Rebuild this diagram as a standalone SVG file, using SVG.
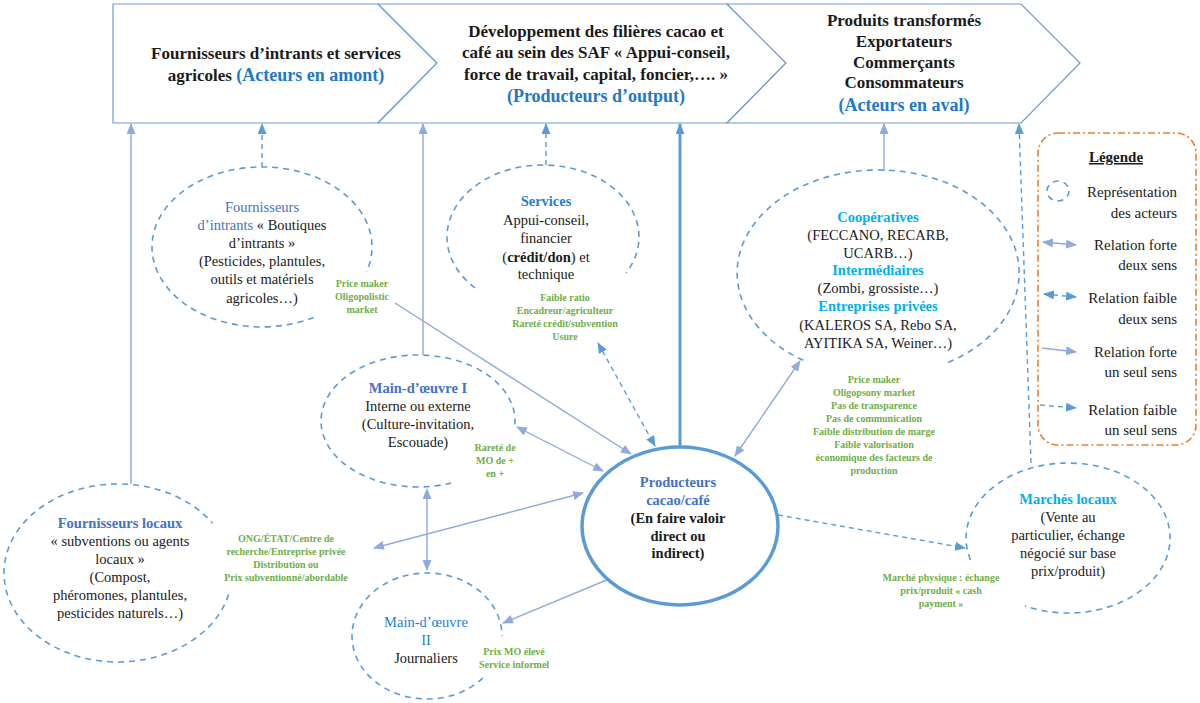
<svg xmlns="http://www.w3.org/2000/svg" width="1200" height="703" viewBox="0 0 1200 703" font-family="'Liberation Serif','Times New Roman','DejaVu Serif','Noto Serif',serif">
<defs>
<style>
text{font-family:'Liberation Serif','Times New Roman','DejaVu Serif','Noto Serif',serif;fill:#1a1a1a;text-anchor:middle}
.ban{font-size:17px;font-weight:bold}
.banb{font-size:18px;font-weight:bold;fill:#1f78c8}
.nd{font-size:14.5px}
.ndb{font-size:14.5px;font-weight:bold}
.t1{fill:#4472c4}
.t2{fill:#1f7fcf}
.t3{fill:#00b0f0}
.gr{font-size:10px;font-weight:bold;fill:#70ad47}
.lg{font-size:15px;text-anchor:end}
.band{fill:#fff;stroke:#6e9bd0;stroke-width:1.2}
.dash{fill:none;stroke:#5b9bd5;stroke-width:1.6;stroke-dasharray:6,5}
.c{fill:none;stroke:#8faadc;stroke-width:1.4}
.cd{fill:none;stroke:#5b9bd5;stroke-width:1.4;stroke-dasharray:5,4}
</style>
<marker id="a" markerUnits="userSpaceOnUse" markerWidth="11" markerHeight="9" refX="10" refY="4.5" orient="auto-start-reverse">
<path d="M0,0 L11,4.5 L0,9 z" fill="#8faadc"/>
</marker>
<marker id="ad" markerUnits="userSpaceOnUse" markerWidth="11" markerHeight="9" refX="10" refY="4.5" orient="auto-start-reverse">
<path d="M0,0 L11,4.5 L0,9 z" fill="#5b9bd5"/>
</marker>
</defs>
<rect width="1200" height="703" fill="#fff"/>

<g id="banner">
<path class="band" d="M113,4 L378,4 L437,63 L378,123 L113,123 Z"/>
<path class="band" d="M378,4 L727,4 L786,63 L727,123 L378,123 L437,63 Z"/>
<path class="band" d="M727,4 L1021,4 L1080,63 L1021,123 L727,123 L786,63 Z"/>
<text class="ban" x="276" y="59">Fournisseurs d’intrants et services</text>
<text class="ban" x="276" y="81">agricoles <tspan class="banb">(Acteurs en amont)</tspan></text>
<text class="ban" x="596" y="37">Développement des filières cacao et</text>
<text class="ban" x="596" y="58">café au sein des SAF « Appui-conseil,</text>
<text class="ban" x="596" y="80">force de travail, capital, foncier,…. »</text>
<text class="banb" x="596" y="102">(Producteurs d’output)</text>
<text class="ban" x="904" y="26">Produits transformés</text>
<text class="ban" x="904" y="47">Exportateurs</text>
<text class="ban" x="904" y="68">Commerçants</text>
<text class="ban" x="904" y="88">Consommateurs</text>
<text class="banb" x="904" y="111">(Acteurs en aval)</text>
</g>

<g id="connectors">
<line class="c" x1="131" y1="484" x2="131" y2="124" marker-end="url(#a)"/>
<line class="cd" x1="262" y1="167" x2="262" y2="124" marker-end="url(#ad)"/>
<line class="c" x1="423" y1="355" x2="423" y2="124" marker-end="url(#a)"/>
<line class="cd" x1="546" y1="165" x2="546" y2="124" marker-end="url(#ad)"/>
<line x1="680" y1="447" x2="680" y2="124" stroke="#5b9bd5" stroke-width="3" marker-end="url(#ad)"/>
<line class="c" x1="884" y1="171" x2="884" y2="124" marker-end="url(#a)"/>
<line class="cd" x1="1031" y1="463" x2="1019" y2="124" marker-end="url(#ad)"/>
<line class="c" x1="395" y1="303" x2="631" y2="454" marker-end="url(#a)"/>
<line class="cd" x1="598" y1="343" x2="655" y2="446" marker-start="url(#ad)" marker-end="url(#ad)"/>
<line class="c" x1="517" y1="427" x2="603" y2="471" marker-start="url(#a)" marker-end="url(#a)"/>
<line class="c" x1="374" y1="548" x2="583" y2="493" marker-start="url(#a)" marker-end="url(#a)"/>
<line class="c" x1="427" y1="489" x2="427" y2="570" marker-start="url(#a)" marker-end="url(#a)"/>
<line class="c" x1="503" y1="623" x2="621" y2="574" marker-start="url(#a)" marker-end="url(#a)"/>
<line class="c" x1="800" y1="361" x2="735" y2="456" marker-start="url(#a)" marker-end="url(#a)"/>
<line class="cd" x1="778" y1="515" x2="965" y2="548" marker-end="url(#ad)"/>
</g>

<g id="fournisseurs-intrants">
<path class="dash" d="M313.6,317.6 A110,80 0 1 1 366.6,271.7"/>
<text class="nd t1" x="262" y="212">Fournisseurs</text>
<text class="nd" x="262" y="230"><tspan class="t1">d’intrants</tspan> « Boutiques</text>
<text class="nd" x="262" y="248">d’intrants »</text>
<text class="nd" x="262" y="266">(Pesticides, plantules,</text>
<text class="nd" x="262" y="284">outils et matériels</text>
<text class="nd" x="262" y="303">agricoles…)</text>
<text class="gr" x="362" y="287">Price maker</text>
<text class="gr" x="362" y="300">Oligopolistic</text>
<text class="gr" x="362" y="313">market</text>
</g>

<g id="services">
<path class="dash" d="M475.1,287.9 A96,72 0 1 1 626.1,273"/>
<text class="ndb t2" x="546" y="206">Services</text>
<text class="nd" x="546" y="225">Appui-conseil,</text>
<text class="nd" x="546" y="243">financier</text>
<text class="nd" x="546" y="262">(<tspan font-weight="bold">crédit/don</tspan>) et</text>
<text class="nd" x="546" y="279">technique</text>
<text class="gr" x="565" y="301">Faible ratio</text>
<text class="gr" x="565" y="314">Encadreur/agriculteur</text>
<text class="gr" x="565" y="327">Rareté crédit/subvention</text>
<text class="gr" x="565" y="340">Usure</text>
</g>

<g id="cooperatives">
<path class="dash" d="M803.3,360.3 A141,103 0 1 1 944.2,364"/>
<text class="ndb t3" x="878" y="222" font-size="15">Coopératives</text>
<text class="nd" x="878" y="240" font-size="15">(FECCANO, RECARB,</text>
<text class="nd" x="878" y="258" font-size="15">UCARB…)</text>
<text class="ndb t3" x="878" y="275" font-size="15">Intermédiaires</text>
<text class="nd" x="878" y="293" font-size="15">(Zombi, grossiste…)</text>
<text class="ndb t3" x="878" y="311" font-size="15">Entreprises privées</text>
<text class="nd" x="878" y="330" font-size="15">(KALEROS SA, Rebo SA,</text>
<text class="nd" x="878" y="348" font-size="15">AYITIKA SA, Weiner…)</text>
<text class="gr" x="874" y="383">Price maker</text>
<text class="gr" x="874" y="396">Oligopsony market</text>
<text class="gr" x="874" y="409">Pas de transparence</text>
<text class="gr" x="874" y="422">Pas de communication</text>
<text class="gr" x="874" y="435">Faible distribution de marge</text>
<text class="gr" x="874" y="448">Faible valorisation</text>
<text class="gr" x="874" y="461">économique des facteurs de</text>
<text class="gr" x="874" y="474">production</text>
</g>

<g id="main-oeuvre-1">
<path class="dash" d="M451.2,483 A97,66 0 1 1 514.5,427.9"/>
<text class="ndb t1" x="418" y="393">Main-d’œuvre I</text>
<text class="nd" x="418" y="411">Interne ou externe</text>
<text class="nd" x="418" y="429">(Culture-invitation,</text>
<text class="nd" x="418" y="447">Escouade)</text>
<text class="gr" x="495" y="451">Rareté de</text>
<text class="gr" x="495" y="464">MO de +</text>
<text class="gr" x="495" y="477">en +</text>
</g>

<g id="producteurs">
<ellipse cx="680" cy="526" rx="98" ry="79" fill="#fff" stroke="#5b9bd5" stroke-width="3.5"/>
<text class="ndb t1" x="678" y="487">Producteurs</text>
<text class="ndb t1" x="678" y="505">cacao/café</text>
<text class="ndb" x="678" y="523">(En faire valoir</text>
<text class="ndb" x="678" y="541">direct ou</text>
<text class="ndb" x="678" y="558">indirect)</text>
</g>

<g id="fournisseurs-locaux">
<path class="dash" d="M228.6,594.5 A114,89 0 1 1 212.5,523.2"/>
<text class="ndb t1" x="120" y="528">Fournisseurs locaux</text>
<text class="nd" x="120" y="546">« subventions ou agents</text>
<text class="nd" x="120" y="564">locaux »</text>
<text class="nd" x="120" y="582">(Compost,</text>
<text class="nd" x="120" y="600">phéromones, plantules,</text>
<text class="nd" x="120" y="618">pesticides naturels…)</text>
<text class="gr" x="286" y="542">ONG/ÉTAT/Centre de</text>
<text class="gr" x="286" y="555">recherche/Entreprise privée</text>
<text class="gr" x="286" y="568">Distribution ou</text>
<text class="gr" x="286" y="581">Prix subventionné/abordable</text>
</g>

<g id="main-oeuvre-2">
<path class="dash" d="M482.7,678.2 A75,63 0 1 1 502,636"/>
<text class="nd t2" x="426" y="627">Main-d’œuvre</text>
<text class="nd t2" x="426" y="645">II</text>
<text class="nd" x="426" y="663">Journaliers</text>
<text class="gr" x="514" y="655">Prix MO élevé</text>
<text class="gr" x="514" y="668">Service informel</text>
</g>

<g id="marches-locaux">
<path class="dash" d="M970.5,559.9 A102,75 0 1 1 1024.9,606"/>
<text class="ndb t3" x="1068" y="504">Marchés locaux</text>
<text class="nd" x="1068" y="522">(Vente au</text>
<text class="nd" x="1068" y="540">particulier, échange</text>
<text class="nd" x="1068" y="558">négocié sur base</text>
<text class="nd" x="1068" y="576">prix/produit)</text>
<text class="gr" x="941" y="581">Marché physique : échange</text>
<text class="gr" x="941" y="594">prix/produit « cash</text>
<text class="gr" x="941" y="607">payment »</text>
</g>

<g id="legende">
<rect x="1038" y="133" width="158" height="312" rx="20" fill="none" stroke="#ed7d31" stroke-width="1.6" stroke-dasharray="7,3,2,3"/>
<text x="1116" y="162" font-size="15" font-weight="bold" text-decoration="underline">Légende</text>
<ellipse cx="1058" cy="191" rx="11" ry="10" class="dash" stroke-dasharray="4,3"/>
<text class="lg" x="1177" y="197">Représentation</text>
<text class="lg" x="1177" y="218">des acteurs</text>
<line class="c" x1="1043" y1="242" x2="1076" y2="245" marker-start="url(#a)" marker-end="url(#a)"/>
<text class="lg" x="1177" y="250">Relation forte</text>
<text class="lg" x="1177" y="270">deux sens</text>
<line class="cd" x1="1044" y1="294" x2="1076" y2="297" marker-start="url(#ad)" marker-end="url(#ad)"/>
<text class="lg" x="1177" y="303">Relation faible</text>
<text class="lg" x="1177" y="324">deux sens</text>
<line class="c" x1="1042" y1="348" x2="1076" y2="352" marker-end="url(#a)"/>
<text class="lg" x="1177" y="357">Relation forte</text>
<text class="lg" x="1177" y="377">un seul sens</text>
<line class="cd" x1="1040" y1="405" x2="1076" y2="408" marker-end="url(#ad)"/>
<text class="lg" x="1177" y="415">Relation faible</text>
<text class="lg" x="1177" y="435">un seul sens</text>
</g>
</svg>
